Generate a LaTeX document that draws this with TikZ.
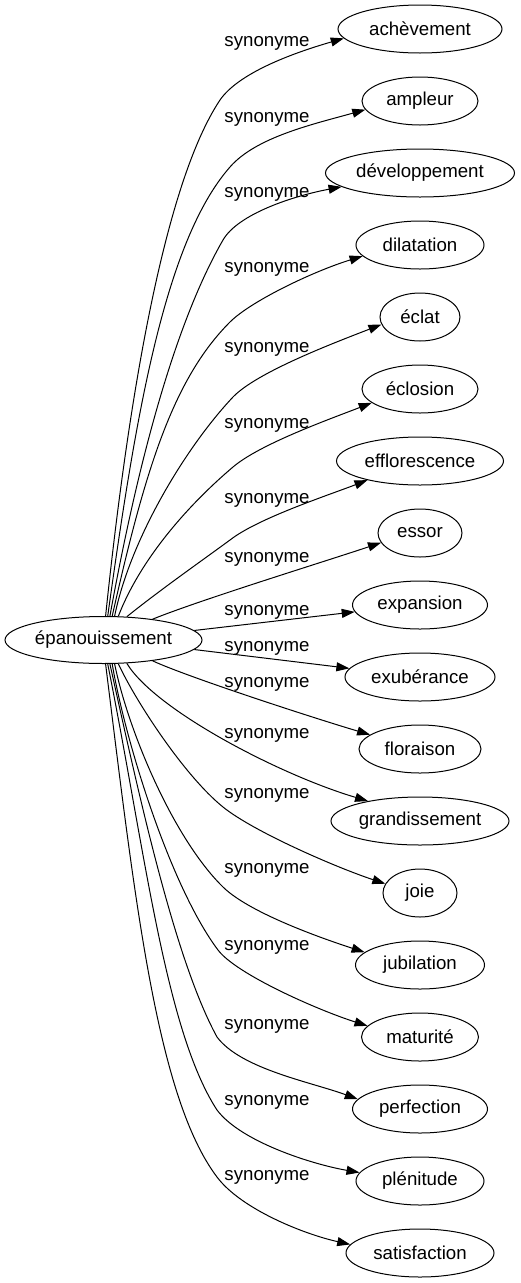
\documentclass[tikz,border=0pt]{standalone}
\usepackage{fontspec}
\setmainfont{Liberation Sans}
\usetikzlibrary{shapes.geometric,arrows.meta}
\tikzset{
  word/.style={draw, ellipse, inner sep=0pt, minimum height=48pt, line width=1pt, font=\fontsize{18.67}{22}\selectfont},
  lab/.style={anchor=base, inner sep=0pt, font=\fontsize{18.67}{22}\selectfont},
  edge/.style={line width=1pt, -{Triangle[length=13pt,width=9pt]}}
}
\begin{document}
\begin{tikzpicture}[x=1pt,y=-1pt]
\useasboundingbox (0,0) rectangle (520,1283);
\node[word, minimum width=197pt, minimum height=47pt] (root) at (103.5,640) {épanouissement};
\node[word, minimum width=164pt] (ach) at (420,29) {achèvement};
\node[word, minimum width=116pt] (amp) at (420,101) {ampleur};
\node[word, minimum width=189pt] (dev) at (420,173) {développement};
\node[word, minimum width=128pt] (dil) at (420,245) {dilatation};
\node[word, minimum width=80pt] (ecl) at (420,317) {éclat};
\node[word, minimum width=116pt] (eclo) at (420,389) {éclosion};
\node[word, minimum width=167pt] (eff) at (420,461) {efflorescence};
\node[word, minimum width=84pt] (ess) at (420,533) {essor};
\node[word, minimum width=135pt] (exp) at (420,605) {expansion};
\node[word, minimum width=150pt] (exu) at (420,677) {exubérance};
\node[word, minimum width=122pt] (flo) at (420,749) {floraison};
\node[word, minimum width=178pt] (gra) at (420,821) {grandissement};
\node[word, minimum width=74pt] (joi) at (420,893) {joie};
\node[word, minimum width=129pt] (jub) at (420,965) {jubilation};
\node[word, minimum width=117pt] (mat) at (420,1037) {maturité};
\node[word, minimum width=135pt] (per) at (420,1109) {perfection};
\node[word, minimum width=128pt] (ple) at (420,1181) {plénitude};
\node[word, minimum width=148pt] (sat) at (420,1253) {satisfaction};
% labels
\node[lab] (l1) at (267,46) {synonyme};
\node[lab] (l2) at (267,122) {synonyme};
\node[lab] (l3) at (267,197) {synonyme};
\node[lab] (l4) at (267,272) {synonyme};
\node[lab] (l5) at (267,352) {synonyme};
\node[lab] (l6) at (267,428) {synonyme};
\node[lab] (l7) at (267,503) {synonyme};
\node[lab] (l8) at (267,562) {synonyme};
\node[lab] (l9) at (267,615.5) {synonyme};
\node[lab] (l10) at (267,651.5) {synonyme};
\node[lab] (l11) at (267,687.5) {synonyme};
\node[lab] (l12) at (267,738) {synonyme};
\node[lab] (l13) at (267,798) {synonyme};
\node[lab] (l14) at (267,873) {synonyme};
\node[lab] (l15) at (267,950) {synonyme};
\node[lab] (l16) at (267,1029) {synonyme};
\node[lab] (l17) at (267,1105) {synonyme};
\node[lab] (l18) at (267,1180) {synonyme};
% edges
\draw[edge] (root.85) .. controls (125,430) and (160,190) .. (220,100) .. controls (240,71) and (300,51) .. (ach.187.4);
\draw[edge] (root.80) .. controls (135,420) and (164,242) .. (230,167) .. controls (256,137) and (314,124) .. (amp.189);
\draw[edge] (root.75) .. controls (140,450) and (178,318) .. (223,240) .. controls (238,214) and (293,196) .. (dev.190.2);
\draw[edge] (root.70) .. controls (145,470) and (173,379) .. (230,322) .. controls (251,301) and (314,271) .. (dil.191.7);
\draw[edge] (root.65) .. controls (130,540) and (185,448) .. (233,397) .. controls (257,372) and (335,342.5) .. (ecl.191.9);
\draw[edge] (root.58) .. controls (140,560) and (187,506) .. (233,467) .. controls (260,444) and (330,419) .. (eclo.196.3);
\draw[edge] (root.45) .. controls (160,590) and (200,562) .. (230,540) .. controls (257.6,518.5) and (326,496) .. (eff.200.1);
\draw[edge] (root.23) .. controls (200,600) and (320,563) .. (ess.194.7);
\draw[edge] (root.6) -- (exp.186.1);
\draw[edge] (root.-6) -- (exu.173);
\draw[edge] (root.-23) .. controls (190,678) and (320,720) .. (flo.164.4);
\draw[edge] (root.-45) .. controls (155,710) and (280,775) .. (gra.159.3);
\draw[edge] (root.-58) .. controls (135,700) and (184,775.5) .. (223,807) .. controls (254,832) and (337.6,868) .. (joi.165.6);
\draw[edge] (root.-65) .. controls (128,730) and (173,838) .. (223,887) .. controls (248,911.6) and (315.5,936.3) .. (jub.167.2);
\draw[edge] (root.-70) .. controls (125,740) and (170,886) .. (218,950) .. controls (236,974) and (317.5,1010) .. (mat.168.7);
\draw[edge] (root.-75) .. controls (140,800) and (175,960) .. (217,1037) .. controls (241,1069) and (311,1082) .. (per.171.5);
\draw[edge] (root.-80) .. controls (145,850) and (165,1030) .. (217,1110) .. controls (241,1142) and (313,1164.5) .. (ple.172.8);
\draw[edge] (root.-85) .. controls (135,900) and (156.6,1097) .. (217,1177) .. controls (241,1209) and (303.4,1234) .. (sat.173.7);
\end{tikzpicture}
\end{document}
